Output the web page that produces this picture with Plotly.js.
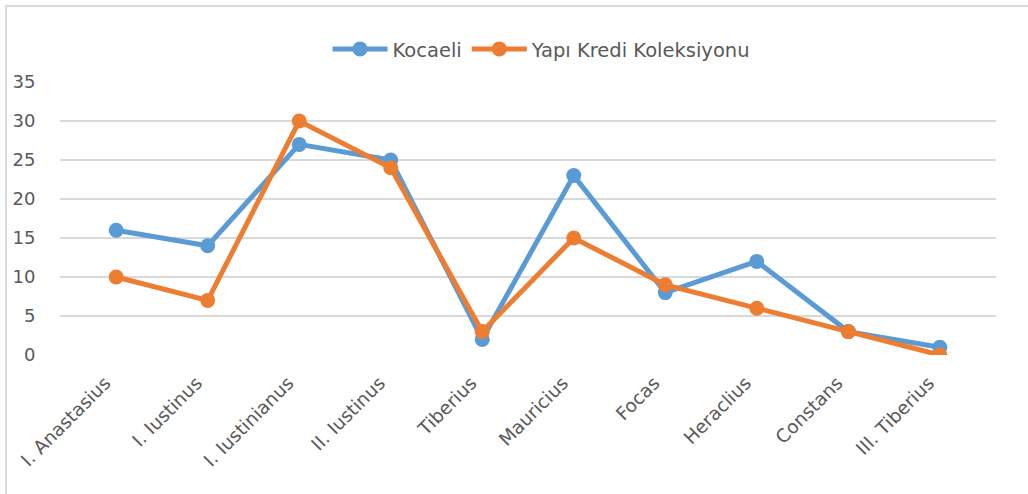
<!DOCTYPE html>
<html>
<head>
<meta charset="utf-8">
<script src="https://cdn.plot.ly/plotly-3.0.1.min.js"></script>
<style>html,body{margin:0;padding:0;background:#fff;}#chart{width:1028px;height:494px;}</style>
</head>
<body>
<div id="chart"></div>
<script>
const categories = ["I. Anastasius","I. Iustinus","I. Iustinianus","II. Iustinus","Tiberius","Mauricius","Focas","Heraclius","Constans","III. Tiberius"];
const kocaeli = [16,14,27,25,2,23,8,12,3,1];
const yapiKredi = [10,7,30,24,3,15,9,6,3,0];
const seriesNames = ["Kocaeli","Yapı Kredi Koleksiyonu"];
const yTicks = [0,5,10,15,20,25,30,35];

const fam = "DejaVu Sans, sans-serif";
const grey = "#595959";
const traces = [
  {x: categories, y: kocaeli, name: seriesNames[0], type: "scatter", mode: "lines+markers",
   line: {color: "#5B9BD5", width: 5}, marker: {color: "#5B9BD5", size: 15}},
  {x: categories, y: yapiKredi, name: seriesNames[1], type: "scatter", mode: "lines+markers",
   line: {color: "#ED7D31", width: 5}, marker: {color: "#ED7D31", size: 15}}
];
const layout = {
  width: 1028, height: 494,
  margin: {l: 60, r: 32, t: 82, b: 139},
  paper_bgcolor: "#fff", plot_bgcolor: "#fff",
  font: {family: fam, size: 18, color: grey},
  showlegend: true,
  legend: {orientation: "h", x: 0.515, xref: "paper", xanchor: "center", y: 1.12, yanchor: "middle",
           font: {family: fam, size: 19.5, color: grey}, itemwidth: 55, traceorder: "normal"},
  xaxis: {type: "category", tickangle: -45, showgrid: false, zeroline: false, showline: false,
          ticks: "outside", ticklen: 9, tickcolor: "rgba(0,0,0,0)", ticklabelshift: -11,
          tickfont: {family: fam, size: 18.5, color: grey}, fixedrange: true},
  yaxis: {range: [0, 35], tickvals: yTicks, showgrid: true, gridcolor: "#D9D9D9", gridwidth: 1.5,
          zeroline: false, showline: false, ticks: "outside", ticklen: 20, tickcolor: "rgba(0,0,0,0)",
          tickfont: {family: fam, size: 18, color: grey}, fixedrange: true},
  shapes: [{type: "rect", xref: "paper", yref: "paper",
            x0: -54/936, x1: 1.1, y0: -1, y1: 1 + 76/273,
            line: {color: "#D9D9D9", width: 2}, fillcolor: "rgba(0,0,0,0)", layer: "below"}]
};
Plotly.newPlot("chart", traces, layout, {displayModeBar: false, staticPlot: true});
</script>
</body>
</html>
